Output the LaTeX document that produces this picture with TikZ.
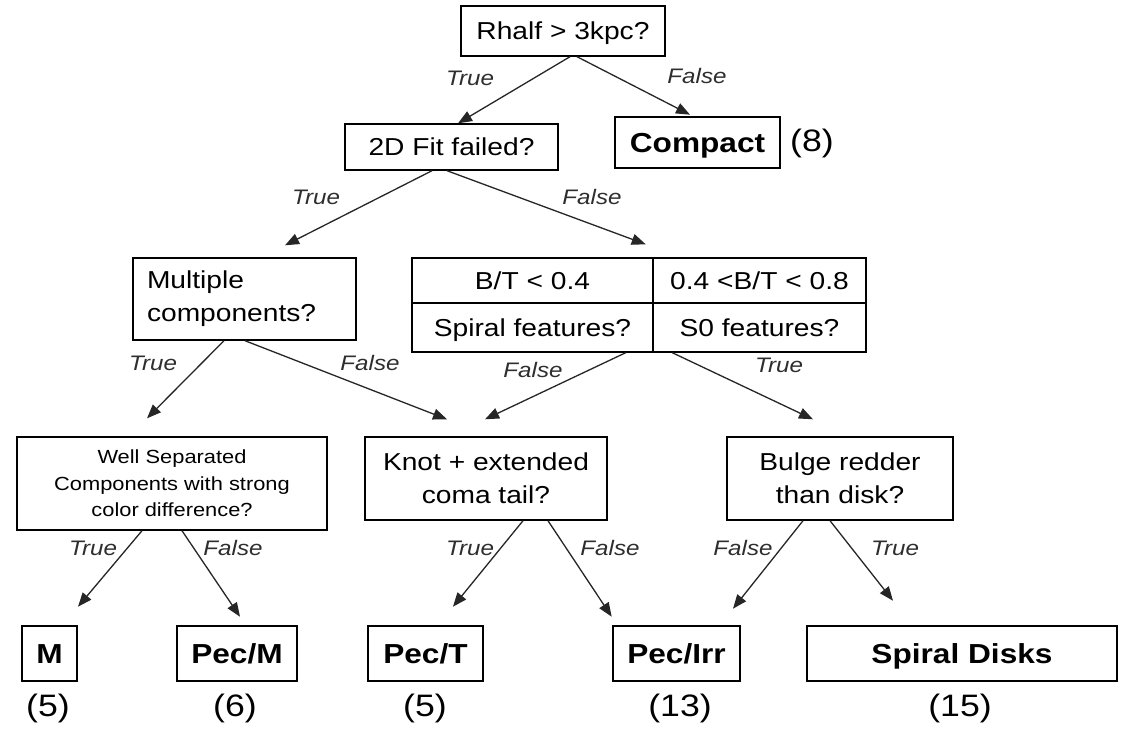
\documentclass[tikz,border=0pt]{standalone}
\usepackage{fontspec}
\setmainfont{Liberation Sans}[FakeStretch=1.15]
\usetikzlibrary{arrows.meta}
\definecolor{lblgray}{HTML}{2E2E2E}
\definecolor{arrgray}{HTML}{262626}
\begin{document}
\begin{tikzpicture}[x=1pt,y=-1pt,
  box/.style={draw=black, line width=1.4pt, inner sep=0pt, align=center, font=\fontsize{24.5}{33}\selectfont},
  one/.style={text height=17.5pt, text depth=0pt},
  leaf/.style={draw=black, line width=2.6pt, inner sep=0pt, minimum height=55pt, text height=19.7pt, text depth=0pt, font=\bfseries\fontsize{27.5}{33}\selectfont},
  cnt/.style={font=\fontsize{31}{36}\selectfont, inner sep=0pt},
  lbl/.style={font=\itshape\fontsize{21}{25}\selectfont, text=lblgray, inner sep=0pt},
  arr/.style={draw=arrgray, line width=1.3pt, -{Triangle[length=14pt,width=11pt]}},
]
\fill[white] (0,0) rectangle (1124,732);
\useasboundingbox (0,0) rectangle (1124,732);

% decision nodes
\node[box, one, minimum width=204pt, minimum height=50pt] (root) at (563,31) {Rhalf > 3kpc?};
\node[box, one, minimum width=213pt, minimum height=46pt] (fit) at (451.5,147) {2D Fit failed?};
\node[leaf, minimum width=165pt, minimum height=51pt] (compact) at (697.5,142.5) {Compact};
\node[cnt] (c8) at (812,143) {(8)};

\node[box, minimum width=223pt, minimum height=82pt, text width=195pt, align=left] (multi) at (244.5,299) {Multiple\\components?};

\node[box, one, minimum width=241pt, minimum height=45pt] (t11) at (532.5,280.5) {B/T < 0.4};
\node[box, one, minimum width=213pt, minimum height=45pt] (t12) at (759.5,280.5) {0.4 <B/T < 0.8};
\node[box, one, minimum width=241pt, minimum height=49pt] (t21) at (532.5,327.5) {Spiral features?};
\node[box, one, minimum width=213pt, minimum height=49pt] (t22) at (759.5,327.5) {S0 features?};

\node[box, font=\fontsize{19}{26.5}\selectfont, minimum width=310pt, minimum height=93pt] (well) at (172,483.5) {Well Separated\\Components with strong\\color difference?};
\node[box, minimum width=242pt, minimum height=83pt] (knot) at (486,478.5) {Knot + extended\\coma tail?};
\node[box, minimum width=226pt, minimum height=83pt] (bulge) at (840,478.5) {Bulge redder\\than disk?};

% leaves
\node[leaf, minimum width=55pt] (m) at (49.5,653.5) {M};
\node[leaf, minimum width=120pt] (pecm) at (237,653.5) {Pec/M};
\node[leaf, minimum width=115pt] (pect) at (425.5,653.5) {Pec/T};
\node[leaf, minimum width=127pt] (pecirr) at (676.5,653.5) {Pec/Irr};
\node[leaf, minimum width=310pt] (spiral) at (962,653.5) {Spiral Disks};

\node[cnt] (c5a) at (48,708) {(5)};
\node[cnt] (c6) at (235,708) {(6)};
\node[cnt] (c5b) at (425,708) {(5)};
\node[cnt] (c13) at (680,708) {(13)};
\node[cnt] (c15) at (960,708) {(15)};

% connectors
\draw[arr] ([xshift=7pt]root.south) -- ([xshift=6.5pt]fit.north);
\draw[arr] ([xshift=14pt]root.south) -- ([xshift=-7.5pt,yshift=1pt]compact.north);
\draw[arr] ([xshift=-19.5pt]fit.south) -- ([xshift=40.5pt,yshift=12pt]multi.north);
\draw[arr] ([xshift=-4.5pt]fit.south) -- ([xshift=-8pt,yshift=13pt]t11.north east);
\draw[arr] ([xshift=-20.5pt]multi.south) -- ([xshift=-25pt,yshift=18pt]well.north);
\draw[arr] ([xshift=0.5pt]multi.south) -- ([xshift=-39pt,yshift=17pt]knot.north);
\draw[arr] ([xshift=-28pt]t21.south east) -- ([xshift=-1pt,yshift=17pt]knot.north);
\draw[arr] ([xshift=20pt]t22.south west) -- ([xshift=-27pt,yshift=17pt]bulge.north);
\draw[arr] ([xshift=-30pt]well.south) -- ([xshift=28.5pt,yshift=18pt]m.north);
\draw[arr] ([xshift=10pt]well.south) -- ([xshift=3pt,yshift=8pt]pecm.north);
\draw[arr] ([xshift=37pt]knot.south) -- ([xshift=27.5pt,yshift=18pt]pect.north);
\draw[arr] ([xshift=62pt]knot.south) -- ([yshift=8pt]pecirr.north west);
\draw[arr] ([xshift=-37pt]bulge.south) -- ([xshift=56.5pt,yshift=16pt]pecirr.north);
\draw[arr] ([xshift=-10pt]bulge.south) -- ([xshift=-69pt,yshift=24pt]spiral.north);

% edge labels
\node[lbl] (l1) at (470,78) {True};
\node[lbl] (l2) at (697,76) {False};
\node[lbl] (l3) at (316,197) {True};
\node[lbl] (l4) at (592,197) {False};
\node[lbl] (l5) at (153,363) {True};
\node[lbl] (l6) at (370,363) {False};
\node[lbl] (l7) at (533,370) {False};
\node[lbl] (l8) at (779,365) {True};
\node[lbl] (l9) at (93,548) {True};
\node[lbl] (l10) at (233,548) {False};
\node[lbl] (l11) at (470,548) {True};
\node[lbl] (l12) at (610,548) {False};
\node[lbl] (l13) at (743,548) {False};
\node[lbl] (l14) at (895,548) {True};
\end{tikzpicture}
\end{document}
